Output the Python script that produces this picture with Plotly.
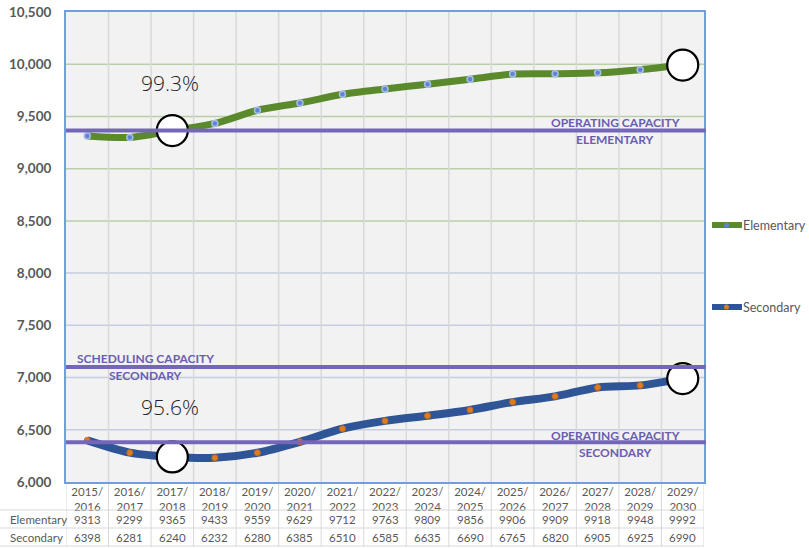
import plotly.graph_objects as go

# Enrolment projections by school year
years = ["2015/2016", "2016/2017", "2017/2018", "2018/2019", "2019/2020",
         "2020/2021", "2021/2022", "2022/2023", "2023/2024", "2024/2025",
         "2025/2026", "2026/2027", "2027/2028", "2028/2029", "2029/2030"]
elementary = [9313, 9299, 9365, 9433, 9559, 9629, 9712, 9763, 9809, 9856,
              9906, 9909, 9918, 9948, 9992]
secondary = [6398, 6281, 6240, 6232, 6280, 6385, 6510, 6585, 6635, 6690,
             6765, 6820, 6905, 6925, 6990]

# Capacity thresholds
op_cap_elem = 9365
sched_cap_sec = 7100
op_cap_sec = 6380

# Highlighted years (index into years)
highlight_idx = [2, 14]
pct_labels = ["99.3%", "95.6%"]

y_ticks = [6000, 6500, 7000, 7500, 8000, 8500, 9000, 9500, 10000, 10500]

GREEN = "#5a8a2b"
BLUE = "#2f5597"
PURPLE = "#7466b8"
LABEL_PURPLE = "#6a5db0"
GRAY_TXT = "#595959"
FONT = "Lato, Open Sans, sans-serif"

xs = list(range(len(years)))
tick_text = [y.replace("/", "/<br>") for y in years]

fig = go.Figure()

fig.add_trace(go.Scatter(
    x=xs, y=elementary, mode="lines+markers", line=dict(color=GREEN, width=7, shape="spline", smoothing=0.8),
    marker=dict(size=6, color="#5f86d6", line=dict(color="#a9bde6", width=1.5)),
    showlegend=False, hoverinfo="skip"))
fig.add_trace(go.Scatter(
    x=xs, y=secondary, mode="lines+markers", line=dict(color=BLUE, width=8, shape="spline", smoothing=0.8),
    marker=dict(size=6, color="#e07b22", line=dict(color="#c56a1c", width=1)),
    showlegend=False, hoverinfo="skip"))

# Highlight circles
for series in (elementary, secondary):
    fig.add_trace(go.Scatter(
        x=[xs[i] for i in highlight_idx], y=[series[i] for i in highlight_idx],
        mode="markers", marker=dict(size=31, color="white", line=dict(color="black", width=2.2)),
        showlegend=False, hoverinfo="skip", cliponaxis=False))

shapes = []
# Horizontal gridlines
for v in y_ticks[1:-1]:
    shapes.append(dict(type="line", xref="paper", x0=0, x1=1, yref="y", y0=v, y1=v,
                       line=dict(color="#b9cfa9" if v >= 8500 else "#c6cde0", width=1.5), layer="below"))
# Vertical gridlines between categories
for k in range(1, len(years)):
    shapes.append(dict(type="line", xref="x", x0=k - 0.5, x1=k - 0.5, yref="paper", y0=0, y1=1,
                       line=dict(color="#d9d9d9", width=1.5), layer="below"))
# Capacity lines
for v in (op_cap_elem, sched_cap_sec, op_cap_sec):
    shapes.append(dict(type="line", xref="paper", x0=0, x1=1.003, yref="y", y0=v, y1=v,
                       line=dict(color=PURPLE, width=4)))

# Data table below the axis
H = 470.0
def py(p):
    return (482.0 - p) / H

def px(p):
    return (p - 66.0) / 638.0

for k in range(len(years) + 1):
    shapes.append(dict(type="line", xref="x", x0=k - 0.5, x1=k - 0.5, yref="paper", y0=py(484), y1=py(547),
                       line=dict(color="#d9d9d9", width=1)))
for p in (510, 528, 546):
    shapes.append(dict(type="line", xref="paper", x0=px(0), x1=1, yref="paper", y0=py(p), y1=py(p),
                       line=dict(color="#d9d9d9", width=1)))

annotations = []
for i in xs:
    annotations.append(dict(x=i, y=py(519), xref="x", yref="paper", text=str(elementary[i]), showarrow=False,
                            xanchor="center", yanchor="middle", font=dict(size=11.5, color=GRAY_TXT, family=FONT)))
    annotations.append(dict(x=i, y=py(537), xref="x", yref="paper", text=str(secondary[i]), showarrow=False,
                            xanchor="center", yanchor="middle", font=dict(size=11.5, color=GRAY_TXT, family=FONT)))
for name, p in (("Elementary", 519), ("Secondary", 537)):
    annotations.append(dict(x=px(8), y=py(p), xref="paper", yref="paper", text=name, showarrow=False,
                            xanchor="left", yanchor="middle", font=dict(size=11.5, color=GRAY_TXT, family=FONT)))

# Capacity labels
def cap_label(text, xpx, ypx):
    annotations.append(dict(x=px(xpx), y=py(ypx), xref="paper", yref="paper", text=f"<b>{text}</b>",
                            showarrow=False, xanchor="center", yanchor="middle",
                            font=dict(size=12, color=LABEL_PURPLE, family=FONT)))

cap_label("OPERATING CAPACITY", 615, 122)
cap_label("ELEMENTARY", 615, 139)
cap_label("SCHEDULING CAPACITY", 145, 358)
cap_label("SECONDARY", 145, 375)
cap_label("OPERATING CAPACITY", 615, 435)
cap_label("SECONDARY", 615, 452)

# Percentage labels
for txt, ypx in zip(pct_labels, (83, 407)):
    annotations.append(dict(x=highlight_idx[0] - 0.05, y=py(ypx), xref="x", yref="paper", text=txt, showarrow=False,
                            xanchor="center", yanchor="middle",
                            font=dict(size=21, color="#222222", family="Open Sans, sans-serif", weight=300)))

# Legend drawn beside the plot
for name, color, mcolor, ypx in (("Elementary", GREEN, "#5f86d6", 225), ("Secondary", BLUE, "#e07b22", 307)):
    shapes.append(dict(type="line", xref="paper", x0=px(712), x1=px(742),
                       yref="paper", y0=py(ypx), y1=py(ypx), line=dict(color=color, width=6)))
    shapes.append(dict(type="circle", xref="paper", yref="paper",
                       x0=px(724), x1=px(729), y0=py(ypx + 2.5), y1=py(ypx - 2.5),
                       fillcolor=mcolor, line=dict(color=mcolor, width=0)))
    annotations.append(dict(x=px(741), y=py(ypx), xref="paper", yref="paper", text=name,
                            showarrow=False, xanchor="left", yanchor="middle",
                            font=dict(size=12.5, color=GRAY_TXT, family=FONT)))

fig.update_layout(
    width=809, height=548,
    margin=dict(l=66, r=105, t=12, b=66, autoexpand=False),
    paper_bgcolor="white", plot_bgcolor="#f2f2f2",
    shapes=shapes, annotations=annotations,
    font=dict(family=FONT, color=GRAY_TXT),
)
fig.update_xaxes(range=[-0.5, len(years) - 0.5], tickvals=xs, ticktext=tick_text, showgrid=False,
                 tickfont=dict(size=11.5, color=GRAY_TXT), showline=True, linecolor="#6fa0d8", linewidth=2,
                 mirror=True, zeroline=False, ticks="", automargin=False, ticklabelstandoff=-2)
fig.update_yaxes(range=[6000, 10500], tickvals=y_ticks, tickformat=",", showgrid=False, zeroline=False,
                 tickfont=dict(size=13.5, color=GRAY_TXT, weight="bold"), showline=True, linecolor="#6fa0d8",
                 linewidth=2, mirror=True, ticklabelstandoff=10, ticks="", automargin=False)

fig.write_html("out.html")
